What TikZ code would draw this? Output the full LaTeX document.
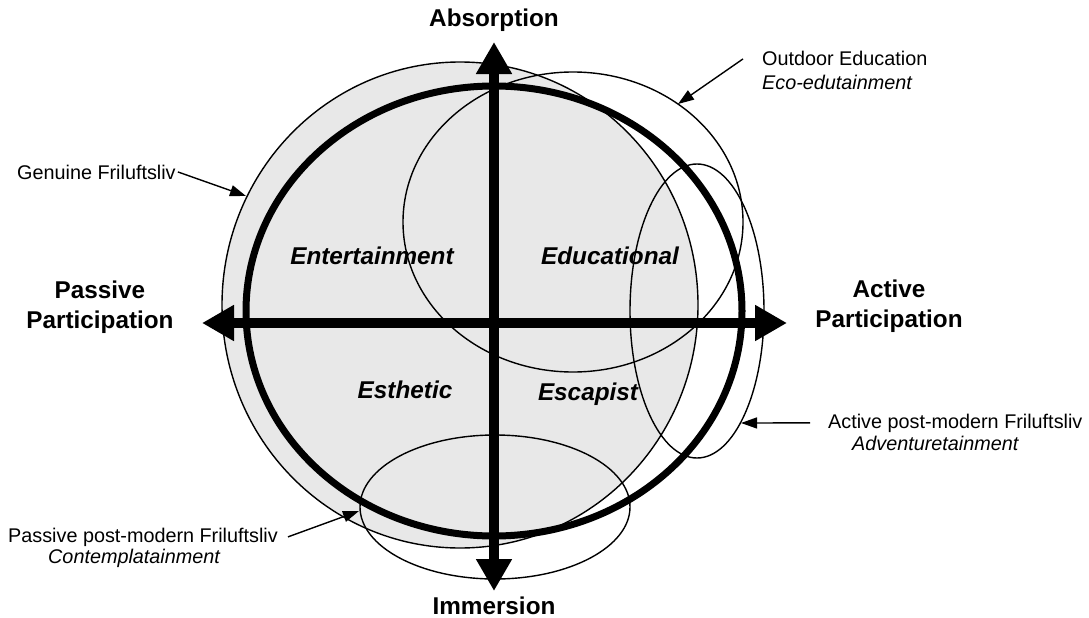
\documentclass[tikz,border=0pt]{standalone}
\usepackage{xcolor}
\usepackage{fontspec}
\setmainfont{Liberation Sans}
\usetikzlibrary{arrows.meta}

\definecolor{genuinegray}{gray}{0.91}

\begin{document}
\begin{tikzpicture}[x=1pt, y=-1pt,
        axislabel/.style={font=\fontsize{24.3}{29}\selectfont\bfseries, inner sep=0pt},
        realm/.style={font=\fontsize{24.3}{29}\selectfont\bfseries\itshape, inner sep=0pt},
        tag/.style={font=\fontsize{19.8}{23}\selectfont, inner sep=0pt},
        thin ring/.style={draw, line width=1.4pt},
        pointer/.style={-{Triangle[length=16pt,width=11pt]}, line width=1.4pt},
        axis/.style={{Triangle[length=32pt,width=34pt]}-{Triangle[length=32pt,width=34pt]}, line width=10pt}]
        \useasboundingbox (0,0) rectangle (1089,618);

        % the four kinds of friluftsliv
        \draw[thin ring, fill=genuinegray] (460,305) ellipse [x radius=238pt, y radius=243pt];
        \draw[thin ring] (573,222) ellipse [x radius=170pt, y radius=150pt];
        \draw[thin ring] (697,311) ellipse [x radius=67pt, y radius=147pt];
        \draw[thin ring] (495,507) ellipse [x radius=135pt, y radius=72pt];
        \draw[line width=7pt] (494,311) ellipse [x radius=248pt, y radius=225pt];

        % axes
        \coordinate (top) at (494,42);
        \coordinate (bottom) at (494,591);
        \coordinate (left) at (202,323);
        \coordinate (right) at (787,323);
        \draw[axis] (bottom) -- (top);
        \draw[axis] (left) -- (right);

        \node[axislabel, anchor=base] (absorption) at (494,27) {Absorption};
        \node[axislabel, anchor=base] (immersion) at (494,614) {Immersion};
        \node[axislabel, anchor=base] (passive) at (100,298) {Passive};
        \node[axislabel, anchor=base] (passivepart) at (100,328) {Participation};
        \node[axislabel, anchor=base] (active) at (889,297) {Active};
        \node[axislabel, anchor=base] (activepart) at (889,327) {Participation};

        \node[realm, anchor=base] (entertainment) at (372,264) {Entertainment};
        \node[realm, anchor=base] (educational) at (610,264) {Educational};
        \node[realm, anchor=base] (esthetic) at (405,398) {Esthetic};
        \node[realm, anchor=base] (escapist) at (588,400) {Escapist};

        % labels with pointers
        \node[tag, anchor=base west] (genuine) at (17,179) {Genuine Friluftsliv};
        \node[tag, anchor=base west] (outdoor) at (762,66) {Outdoor Education};
        \node[tag, anchor=base west] (outdoorsub) at (762,89) {\itshape Eco-edutainment};
        \node[tag, anchor=base west] (activepm) at (828,428) {Active post-modern Friluftsliv};
        \node[tag, anchor=base west] (activesub) at (852,450) {\itshape Adventuretainment};
        \node[tag, anchor=base west] (passivepm) at (8,542) {Passive post-modern Friluftsliv};
        \node[tag, anchor=base west] (passivesub) at (48,563) {\itshape Contemplatainment};

        \coordinate (genuinetip) at (246,196);
        \coordinate (outdoortip) at (678,104);
        \coordinate (activetip) at (741,423);
        \coordinate (passivetip) at (359,511);
        \draw[pointer] ([xshift=2pt]genuine.east) -- (genuinetip);
        \draw[pointer] ([xshift=-19pt]outdoor.west) -- (outdoortip);
        \draw[pointer] ([xshift=-18pt]activepm.west) -- (activetip);
        \draw[pointer] ([xshift=10pt]passivepm.east) -- (passivetip);
    \end{tikzpicture}
\end{document}
